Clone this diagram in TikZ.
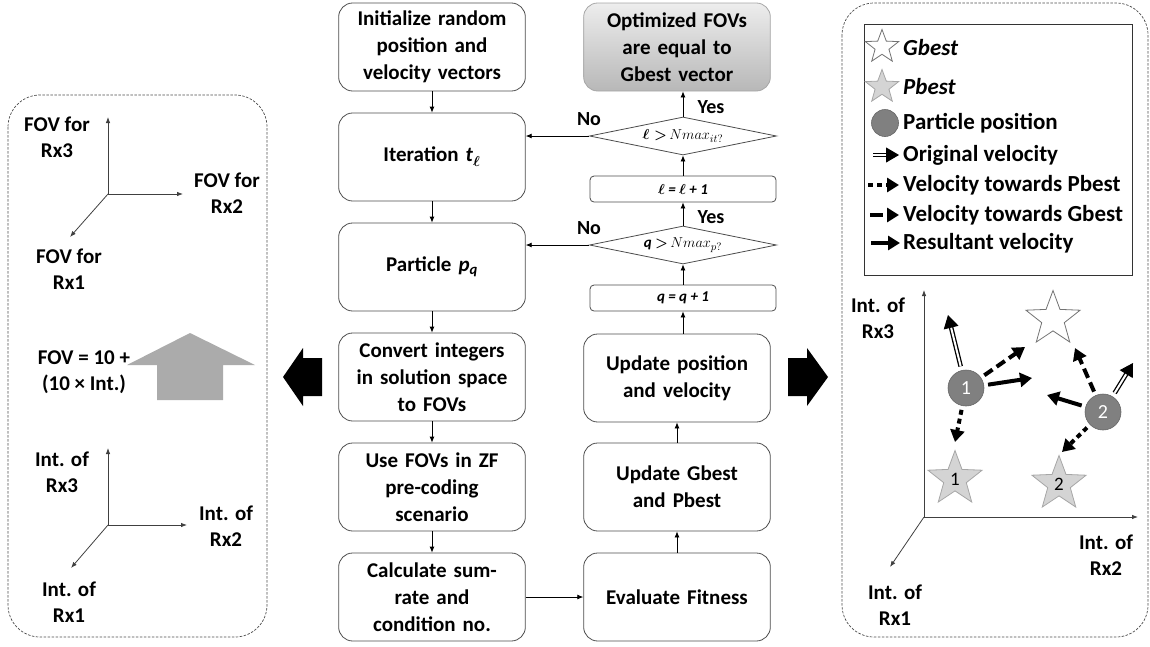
\documentclass[tikz,border=0pt]{standalone}
\usepackage{fontspec}
\setmainfont{Carlito}
\usepackage{amsmath}
\usetikzlibrary{shapes, arrows.meta, positioning, calc}
\tikzset{
    flowbox/.style={ % process steps of the PSO loop
        draw=black!70, line width=0.8pt, rounded corners=14pt,
        minimum width=186pt, minimum height=88pt, text width=180pt,
        align=center, font=\fontsize{21}{27}\selectfont\bfseries},
    optbox/.style={flowbox, draw=black!35, top color=black!7, bottom color=black!28},
    incbox/.style={ % counter updates
        draw=black!70, line width=0.8pt, rounded corners=4pt,
        minimum width=186pt, minimum height=26pt, inner sep=0pt,
        font=\fontsize{15}{18}\selectfont\bfseries},
    decision/.style={
        diamond, draw=black!70, line width=0.8pt, shape aspect=4.9,
        minimum width=187pt, minimum height=38pt, inner sep=0pt,
        font=\fontsize{15}{18}\selectfont\bfseries},
    flowarrow/.style={line width=0.8pt, -{Latex[length=6pt,width=5pt]}},
    answer/.style={font=\fontsize{20}{24}\selectfont\bfseries, inner sep=0pt},
    panel/.style={draw=black!70, line width=0.7pt, dash pattern=on 2.5pt off 1.5pt, rounded corners=32pt},
    axis/.style={draw=black!75, line width=0.8pt, -{Latex[length=6pt,width=4.5pt]}},
    axlabel/.style={align=center, font=\fontsize{21}{26}\selectfont\bfseries, inner sep=0pt},
    legtext/.style={anchor=west, font=\fontsize{23}{26}\selectfont\bfseries, inner sep=0pt},
    gstar/.style={star, star points=5, star point ratio=2.4, draw=black!55, fill=white,
        line width=0.8pt, inner sep=0pt, font=\fontsize{19}{19}\selectfont},
    pstar/.style={gstar, draw=black!35, fill=black!17},
    particle/.style={circle, fill=black!50, draw=black!60, line width=0.6pt, inner sep=0pt,
        text=white, font=\fontsize{20}{20}\selectfont},
    velline/.style={line width=4pt, -{Triangle[length=12pt,width=14pt]}},
    fromp/.style={shorten <=4pt},
    gvel/.style={velline, dash pattern=on 10pt off 5pt},
    pvel/.style={velline, dash pattern=on 5pt off 4pt},
    origline/.style={double, double distance=2pt, line width=1.3pt, shorten >=11pt},
    veltip/.style={line width=1pt, -{Triangle[length=13pt,width=15pt]}},
    blockarrow/.style={fill=black}
}
% original velocity: double line plus a separate solid tip
\newcommand{\origvel}[3][]{%
    \draw[origline,#1] (#2) -- (#3);
    \draw[veltip] ($(#3)!1pt!(#2)$) -- (#3);}

\begin{document}
\begin{tikzpicture}[x=1pt, y=-1pt]
    \useasboundingbox (0,0) rectangle (1150,646);

    % Left panel: mapping integers to FOVs
    \draw[panel] (8,95) rectangle (267,637);
    \coordinate (fo) at (108,194);
    \coordinate (fz) at (108,117);
    \coordinate (fy) at (183,194);
    \coordinate (fx) at (70,237);
    \draw[axis] (fo) -- (fz);
    \draw[axis] (fo) -- (fy);
    \draw[axis] (fo) -- (fx);
    \node[axlabel] (fovz) at (57,137) {FOV for\\Rx3};
    \node[axlabel] (fovy) at (227,193) {FOV for\\Rx2};
    \node[axlabel] (fovx) at (69,269) {FOV for\\Rx1};

    \fill[black!33] (190,333) -- (255,365) -- (223,365) -- (223,400)
        -- (157,400) -- (157,365) -- (127,365) -- cycle;
    \node[axlabel] (map) at (84,372) {FOV = 10 +\\(10 × Int.)};

    \coordinate (io) at (108,525);
    \coordinate (iz) at (108,448);
    \coordinate (iy) at (187,525);
    \coordinate (ix) at (71,568);
    \draw[axis] (io) -- (iz);
    \draw[axis] (io) -- (iy);
    \draw[axis] (io) -- (ix);
    \node[axlabel] (intz) at (62,472) {Int. of\\Rx3};
    \node[axlabel] (inty) at (226,526) {Int. of\\Rx2};
    \node[axlabel] (intx) at (69,602) {Int. of\\Rx1};

    % Block arrows out of the flowchart
    \fill[blockarrow] (283,377) -- (303,348) -- (303,358) -- (322,358)
        -- (322,396) -- (303,396) -- (303,406) -- cycle;
    \fill[blockarrow] (828,377) -- (807,348) -- (807,358) -- (788,358)
        -- (788,396) -- (807,396) -- (807,406) -- cycle;

    % Flowchart, left column
    \node[flowbox] (init) at (432,47) {Initialize random\\position and\\velocity vectors};
    \node[flowbox] (iter) at (432,157) {Iteration \textit{t}\textsubscript{{\boldmath$\ell$}}};
    \node[flowbox] (part) at (432,267) {Particle \textit{p}\textsubscript{\textit{q}}};
    \node[flowbox] (conv) at (432,377) {Convert integers\\in solution space\\to FOVs};
    \node[flowbox] (zf) at (432,487) {Use FOVs in ZF\\pre-coding\\scenario};
    \node[flowbox] (calc) at (432,597) {Calculate sum-\\rate and\\condition no.};

    % Flowchart, right column
    \node[optbox] (opt) at (677,47) {Optimized FOVs\\are equal to\\Gbest vector};
    \node[decision] (chkit) at (683,136) {{\boldmath$\ell >$}$\,Nmax_{it?}$};
    \node[incbox] (incit) at (683,189) {{\itshape\boldmath$\ell$ = $\ell$ + 1}};
    \node[decision] (chkp) at (683,245) {\textit{q} {\boldmath$>$}$\,Nmax_{p?}$};
    \node[incbox] (incp) at (683,298) {\textit{q = q + 1}};
    \node[flowbox] (upd) at (677,378) {Update position\\and velocity};
    \node[flowbox] (best) at (677,487) {Update Gbest\\and Pbest};
    \node[flowbox] (eval) at (677,597) {Evaluate Fitness};

    \draw[flowarrow] (init) -- (iter);
    \draw[flowarrow] (iter) -- (part);
    \draw[flowarrow] (part) -- (conv);
    \draw[flowarrow] (conv) -- (zf);
    \draw[flowarrow] (zf) -- (calc);
    \draw[flowarrow] (calc) -- (eval);
    \draw[flowarrow] (eval) -- (best);
    \draw[flowarrow] (best) -- (upd);
    \draw[flowarrow] (incp.south |- upd.north) -- (incp);
    \draw[flowarrow] (incp) -- (chkp);
    \draw[flowarrow] (chkp) -- (incit);
    \draw[flowarrow] (incit) -- (chkit);
    \draw[flowarrow] (chkit) -- (chkit |- opt.south);
    \draw[flowarrow] (chkit.west) -- (chkit.west -| iter.east);
    \draw[flowarrow] (chkp.west) -- (chkp.west -| part.east);
    \node[answer] (yes1) at (711,107) {Yes};
    \node[answer] (no1) at (589,119) {No};
    \node[answer] (yes2) at (711,217) {Yes};
    \node[answer] (no2) at (589,228) {No};

    % Right panel: legend
    \draw[panel] (842,3) rectangle (1148,637);
    \draw[black!80, line width=0.8pt] (864,24) rectangle (1132,275);
    \node[gstar, minimum size=35pt] (lgb) at (882,47) {};
    \node[legtext, font=\fontsize{23}{26}\selectfont\bfseries\itshape] at (903,48) {Gbest};
    \node[pstar, minimum size=35pt] (lpb) at (882,87) {};
    \node[legtext, font=\fontsize{23}{26}\selectfont\bfseries\itshape] at (903,87) {Pbest};
    \node[particle, minimum size=27pt] (lpart) at (885,123) {};
    \node[legtext] at (903,123) {Particle position};
    \coordinate (lo1) at (873,155);
    \coordinate (lo2) at (899,155);
    \origvel{lo1}{lo2}
    \node[legtext] at (903,155) {Original velocity};
    \coordinate (lp1) at (868,185);
    \coordinate (lp2) at (899,185);
    \draw[pvel] (lp1) -- (lp2);
    \node[legtext] at (903,185) {Velocity towards Pbest};
    \coordinate (lg1) at (870,215);
    \coordinate (lg2) at (899,215);
    \draw[gvel, dash pattern=on 13pt off 4pt] (lg1) -- (lg2);
    \node[legtext] at (903,215) {Velocity towards Gbest};
    \coordinate (lr1) at (871,243);
    \coordinate (lr2) at (900,243);
    \draw[velline] (lr1) -- (lr2);
    \node[legtext] at (903,243) {Resultant velocity};

    % Right panel: search space
    \coordinate (so) at (924,517);
    \coordinate (sz) at (924,290);
    \coordinate (sy) at (1138,517);
    \coordinate (sx) at (890,567);
    \draw[axis] (so) -- (sz);
    \draw[axis] (so) -- (sy);
    \draw[axis] (so) -- (sx);
    \node[axlabel] (sintz) at (878,318) {Int. of\\Rx3};
    \node[axlabel] (sinty) at (1106,555) {Int. of\\Rx2};
    \node[axlabel] (sintx) at (895,605) {Int. of\\Rx1};

    \node[gstar, minimum size=57pt] (gb) at (1053,319) {};
    \node[pstar, minimum size=57pt] (pb1) at (955,479) {1};
    \node[pstar, minimum size=57pt] (pb2) at (1059,484) {2};
    \node[particle, minimum size=36pt] (p1) at (966,388) {1};
    \node[particle, minimum size=36pt] (p2) at (1103,412) {2};

    \coordinate (ov1) at (948,315);
    \coordinate (gv1) at (1025,347);
    \coordinate (rv1) at (1032,378);
    \coordinate (pv1) at (955,442);
    \coordinate (ov2) at (1133,363);
    \coordinate (gv2) at (1075,348);
    \coordinate (rv2) at (1047,395);
    \coordinate (pv2) at (1062,452);

    \origvel[fromp]{p1}{ov1}
    \draw[gvel, fromp] (p1) -- (gv1);
    \draw[velline, fromp] (p1) -- (rv1);
    \draw[pvel, fromp] (p1) -- (pv1);
    \origvel[fromp]{p2}{ov2}
    \draw[gvel, fromp] (p2) -- (gv2);
    \draw[velline, fromp] (p2) -- (rv2);
    \draw[pvel, fromp] (p2) -- (pv2);
\end{tikzpicture}
\end{document}
